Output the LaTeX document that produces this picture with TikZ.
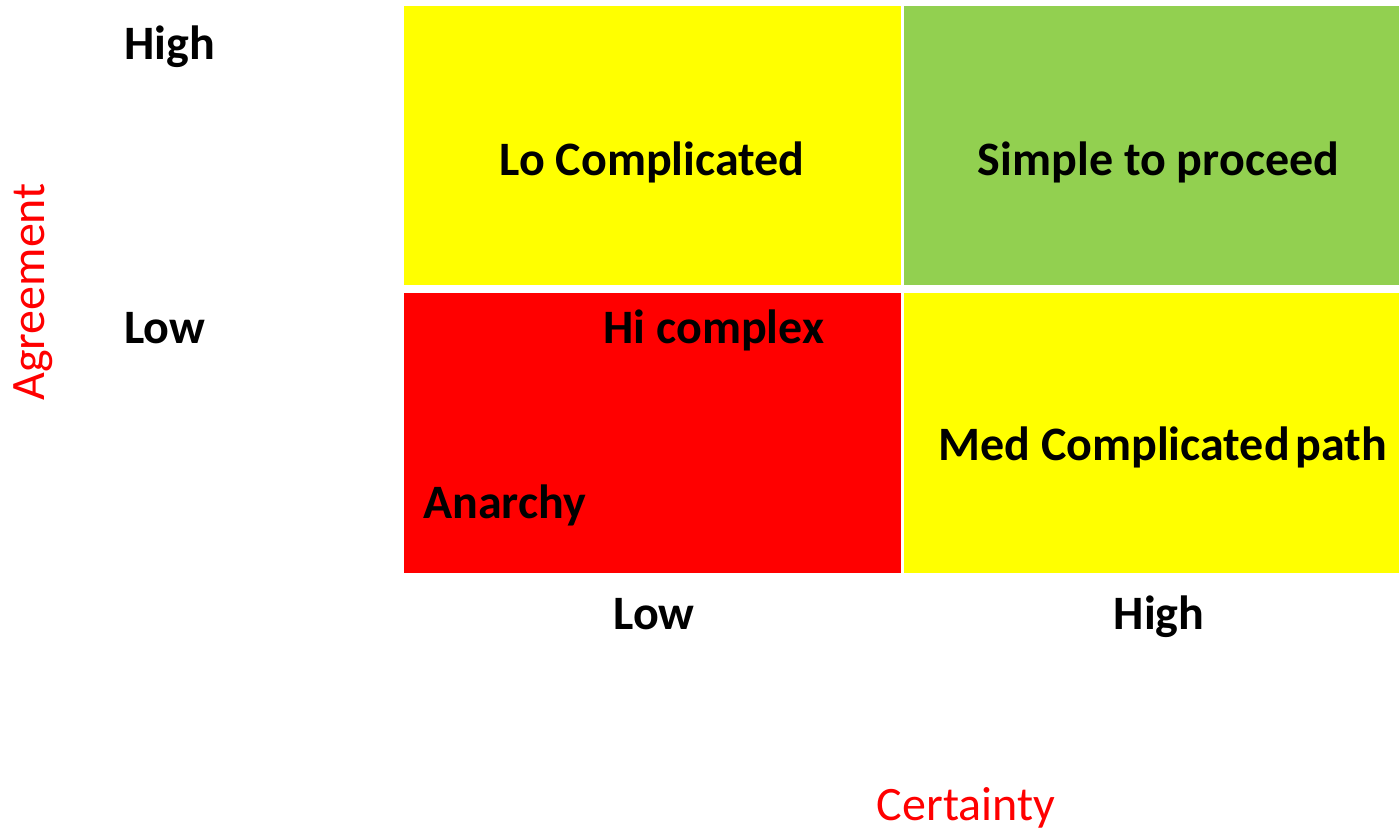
\documentclass[tikz,border=0pt]{standalone}
\usepackage{fontspec}
\setmainfont{Carlito}
\definecolor{cellyellow}{HTML}{FFFF00}
\definecolor{cellgreen}{HTML}{92D050}
\definecolor{cellred}{HTML}{FF0000}
\definecolor{axisred}{HTML}{FF0000}
\begin{document}
\begin{tikzpicture}[x=0.5pt,y=-0.5pt,
  cell/.style={rectangle,draw=none,inner sep=0pt,outer sep=0pt},
  celltext/.style={font=\fontsize{24pt}{28pt}\selectfont\bfseries,text=black,inner sep=0pt},
  levellabel/.style={font=\fontsize{24pt}{28pt}\selectfont\bfseries,text=black,inner sep=0pt},
  axislabel/.style={font=\fontsize{24pt}{28pt}\selectfont,text=axisred,inner sep=0pt}]
\useasboundingbox (0,0) rectangle (1399,827);
\fill[white] (0,0) rectangle (1399,827);
% the four quadrants
\node[cell,fill=cellyellow,minimum width=497*0.5pt,minimum height=279*0.5pt] (tl) at (652.5,145.5) {};
\node[cell,fill=cellgreen,minimum width=495*0.5pt,minimum height=279*0.5pt] (tr) at (1151.5,145.5) {};
\node[cell,fill=cellred,minimum width=497*0.5pt,minimum height=280*0.5pt] (bl) at (652.5,433) {};
\node[cell,fill=cellyellow,minimum width=495*0.5pt,minimum height=280*0.5pt] (br) at (1151.5,433) {};
% quadrant texts
\node[celltext,anchor=base] (locomp) at (652,175) {Lo Complicated};
\node[celltext,anchor=base] (simple) at (1158.5,175) {Simple to proceed};
\node[celltext,anchor=base west] (hicomp) at (603,343) {Hi complex};
\node[celltext,anchor=base west] (anarchy) at (423,518) {Anarchy};
\node[celltext,anchor=base west] (medcomp) at (938,460) {Med Complicated\hspace{0.12em}path};
% agreement levels
\node[levellabel,anchor=base west] (agrhigh) at (124,59) {High};
\node[levellabel,anchor=base west] (agrlow) at (124,343) {Low};
% certainty levels
\node[levellabel,anchor=base] (cerlow) at (654,629) {Low};
\node[levellabel,anchor=base] (cerhigh) at (1159,629) {High};
% axis titles
\node[axislabel,anchor=base,rotate=90] (agreement) at (45,292) {Agreement};
\node[axislabel,anchor=base] (certainty) at (966,820) {Certainty};
\end{tikzpicture}
\end{document}
